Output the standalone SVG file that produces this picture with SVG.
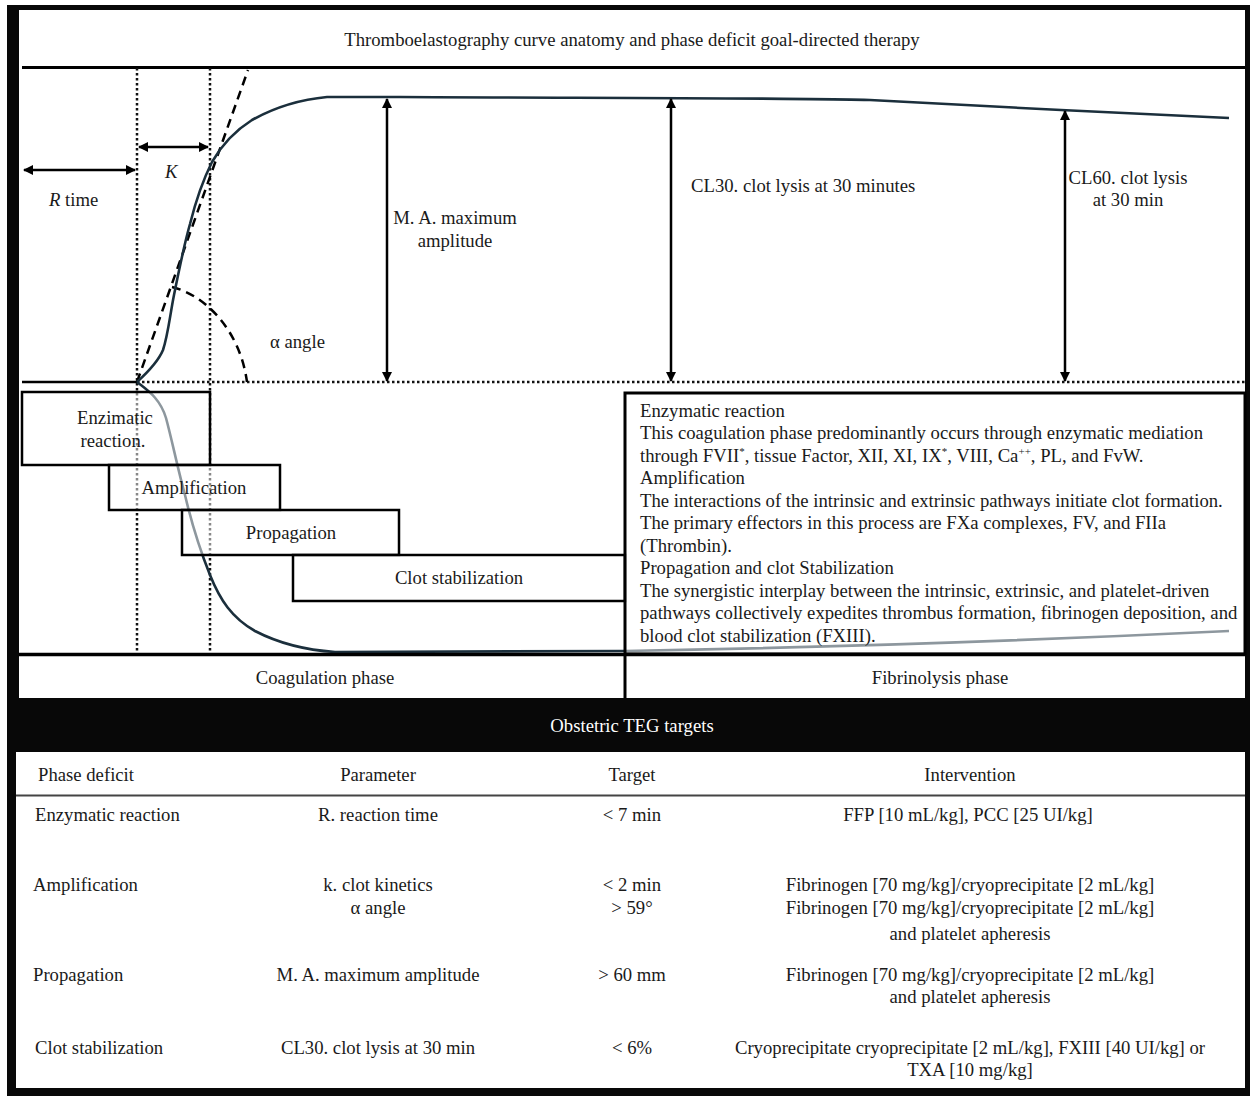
<svg xmlns="http://www.w3.org/2000/svg" width="1250" height="1096" viewBox="0 0 1250 1096">
<defs>
<marker id="ah" viewBox="0 0 10 10" refX="9" refY="5" markerWidth="12" markerHeight="10" markerUnits="userSpaceOnUse" orient="auto-start-reverse">
<path d="M0,0 L10,5 L0,10 Z" fill="#000"/>
</marker>
<style>
text{font-family:"Liberation Serif","Times New Roman",serif;font-size:18.7px;fill:#1a1a1a}
.c{text-anchor:middle}
.w{fill:#fff}
.box{fill:#fff;fill-opacity:0.5;stroke:#000;stroke-width:2.5}
.arr{stroke:#000;stroke-width:2.5;fill:none}
.dot{stroke:#111;stroke-width:2.5;stroke-dasharray:2.5 2.5;fill:none}
.dash{stroke:#000;stroke-width:2.5;stroke-dasharray:9 6;fill:none}
.curve{stroke:#1b2f3c;stroke-width:2.6;fill:none}
</style>
</defs>
<rect x="0" y="0" width="1250" height="1096" fill="#fff"/>
<rect x="7" y="5" width="1243" height="1091" fill="#080808"/>
<rect x="19" y="10" width="1226" height="688" fill="#fff"/>
<rect x="16" y="752" width="1229" height="336" fill="#fff"/>

<g id="title"><text class="c" x="632" y="46">Thromboelastography curve anatomy and phase deficit goal-directed therapy</text></g>
<line x1="22" y1="67.5" x2="1245" y2="67.5" stroke="#000" stroke-width="3"/>

<g id="guides">
<line class="dot" x1="137" y1="68" x2="137" y2="654"/>
<line class="dot" x1="210" y1="68" x2="210" y2="654"/>
<line x1="22" y1="382" x2="137" y2="382" stroke="#000" stroke-width="2.5"/>
<line class="dot" x1="137" y1="382" x2="1245" y2="382"/>
<line class="dash" x1="137" y1="382" x2="248" y2="70"/>
<path class="dash" d="M172,287 C205,295 240,330 247,382"/>
</g>

<g id="curves">
<path class="curve" d="M137,382 C148,372 158,362 163,350 C168,335 170,315 174,295 C179,270 184,245 190,224 C196,200 203,180 212,162 C220,148 233,132 252,120 C270,110 295,100 327,97 L400,97 C600,98 820,98 870,100 C950,104 1000,107 1061,110 L1229,118"/>
<path class="curve" d="M137,382 C147,390 160,398 166,418 C172,440 178,470 185,495 C192,525 200,550 210,575 C220,600 232,618 255,631 C280,644 305,650 335,652 L625,651 C800,648 1000,642 1229,631"/>
</g>

<g id="connectors">
<line class="arr" x1="24" y1="170" x2="135" y2="170" marker-start="url(#ah)" marker-end="url(#ah)"/>
<line class="arr" x1="139" y1="147" x2="208" y2="147" marker-start="url(#ah)" marker-end="url(#ah)"/>
<line class="arr" x1="387" y1="99" x2="387" y2="381" marker-start="url(#ah)" marker-end="url(#ah)"/>
<line class="arr" x1="671" y1="99" x2="671" y2="381" marker-start="url(#ah)" marker-end="url(#ah)"/>
<line class="arr" x1="1065" y1="111" x2="1065" y2="381" marker-start="url(#ah)" marker-end="url(#ah)"/>
</g>

<g id="labels">
<text x="49" y="206"><tspan font-style="italic">R</tspan> time</text>
<text x="165" y="178" font-style="italic">K</text>
<text class="c" x="455" y="224">M. A. maximum</text>
<text class="c" x="455" y="247">amplitude</text>
<text x="691" y="192">CL30. clot lysis at 30 minutes</text>
<text class="c" x="1128" y="184">CL60. clot lysis</text>
<text class="c" x="1128" y="206">at 30 min</text>
<text x="270" y="348">α angle</text>
</g>

<g id="enzimatic"><rect class="box" x="22" y="392" width="188" height="73"/>
<text class="c" x="115" y="424">Enzimatic</text><text class="c" x="113" y="447">reaction.</text></g>
<g id="amplification"><rect class="box" x="109" y="465" width="171" height="45"/>
<text class="c" x="194" y="494">Amplification</text></g>
<g id="propagation"><rect class="box" x="182" y="510" width="217" height="45"/>
<text class="c" x="291" y="539">Propagation</text></g>
<g id="clotstab"><rect class="box" x="293" y="555" width="332" height="46"/>
<text class="c" x="459" y="584">Clot stabilization</text></g>

<g id="description">
<rect x="625" y="393" width="620" height="261" fill="#fff" fill-opacity="0.5" stroke="#000" stroke-width="3"/>
<text x="640" y="417">Enzymatic reaction</text>
<text x="640" y="439">This coagulation phase predominantly occurs through enzymatic mediation</text>
<text x="640" y="462">through FVII<tspan font-size="11" dy="-7">*</tspan><tspan dy="7">, tissue Factor, XII, XI, IX</tspan><tspan font-size="11" dy="-7">*</tspan><tspan dy="7">, VIII, Ca</tspan><tspan font-size="11" dy="-7">++</tspan><tspan dy="7">, PL, and FvW.</tspan></text>
<text x="640" y="484">Amplification</text>
<text x="640" y="507">The interactions of the intrinsic and extrinsic pathways initiate clot formation.</text>
<text x="640" y="529">The primary effectors in this process are FXa complexes, FV, and FIIa</text>
<text x="640" y="552">(Thrombin).</text>
<text x="640" y="574">Propagation and clot Stabilization</text>
<text x="640" y="597">The synergistic interplay between the intrinsic, extrinsic, and platelet-driven</text>
<text x="640" y="619">pathways collectively expedites thrombus formation, fibrinogen deposition, and</text>
<text x="640" y="642">blood clot stabilization (FXIII).</text>
</g>

<g id="phases">
<line x1="19" y1="654.5" x2="1245" y2="654.5" stroke="#000" stroke-width="3.5"/>
<line x1="625" y1="654" x2="625" y2="698" stroke="#000" stroke-width="3"/>
<text class="c" x="325" y="684">Coagulation phase</text>
<text class="c" x="940" y="684">Fibrinolysis phase</text>
</g>

<g id="table">
<text class="c w" x="632" y="732">Obstetric TEG targets</text>
<line x1="16" y1="795.5" x2="1245" y2="795.5" stroke="#444" stroke-width="2"/>
<text x="38" y="781">Phase deficit</text>
<text class="c" x="378" y="781">Parameter</text>
<text class="c" x="632" y="781">Target</text>
<text class="c" x="970" y="781">Intervention</text>

<text x="35" y="821">Enzymatic reaction</text>
<text class="c" x="378" y="821">R. reaction time</text>
<text class="c" x="632" y="821">&lt; 7 min</text>
<text class="c" x="968" y="821">FFP [10 mL/kg], PCC [25 UI/kg]</text>

<text x="33" y="891">Amplification</text>
<text class="c" x="378" y="891">k. clot kinetics</text>
<text class="c" x="378" y="914">α angle</text>
<text class="c" x="632" y="891">&lt; 2 min</text>
<text class="c" x="632" y="914">&gt; 59°</text>
<text class="c" x="970" y="891">Fibrinogen [70 mg/kg]/cryoprecipitate [2 mL/kg]</text>
<text class="c" x="970" y="914">Fibrinogen [70 mg/kg]/cryoprecipitate [2 mL/kg]</text>
<text class="c" x="970" y="940">and platelet apheresis</text>

<text x="33" y="981">Propagation</text>
<text class="c" x="378" y="981">M. A. maximum amplitude</text>
<text class="c" x="632" y="981">&gt; 60 mm</text>
<text class="c" x="970" y="981">Fibrinogen [70 mg/kg]/cryoprecipitate [2 mL/kg]</text>
<text class="c" x="970" y="1003">and platelet apheresis</text>

<text x="35" y="1054">Clot stabilization</text>
<text class="c" x="378" y="1054">CL30. clot lysis at 30 min</text>
<text class="c" x="632" y="1054">&lt; 6%</text>
<text class="c" x="970" y="1054">Cryoprecipitate cryoprecipitate [2 mL/kg], FXIII [40 UI/kg] or</text>
<text class="c" x="970" y="1076">TXA [10 mg/kg]</text>
</g>
</svg>
